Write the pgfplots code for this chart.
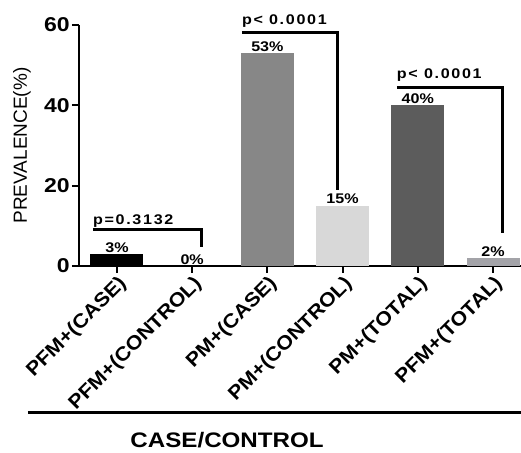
\documentclass[border=0pt]{standalone}
\usepackage{fontspec}
\setmainfont{Liberation Sans}
\newfontfamily\hfont{Liberation Sans}[FakeStretch=1.15]
\newfontfamily\rfont{Liberation Sans}[FakeStretch=1.1]
\newfontfamily\pfont{Liberation Sans}[FakeStretch=1.15, LetterSpace=12]
\usepackage{pgfplots}
\pgfplotsset{compat=1.18}

\definecolor{gA}{HTML}{878787}
\definecolor{gB}{HTML}{D8D8D8}
\definecolor{gC}{HTML}{5C5C5C}
\definecolor{gD}{HTML}{A3A3A8}

\begin{document}
\begin{tikzpicture}
\begin{axis}[
  scale only axis, width=442pt, height=241pt,
  xmin=-0.505, xmax=5.372, ymin=0, ymax=60,
  axis x line=bottom, axis y line=left,
  axis line style={-, line width=2.5pt},
  ytick={0,20,40,60}, xtick={0,...,5},
  xticklabels={PFM+(CASE), PFM+(CONTROL), PM+(CASE), PM+(CONTROL), PM+(TOTAL), PFM+(TOTAL)},
  tick align=outside, major tick length=7pt,
  tick style={line width=2pt, black},
  /pgf/number format/assume math mode=true,
  yticklabel style={font=\hfont\bfseries\fontsize{20}{20}\selectfont, inner sep=2pt},
  xticklabel style={font=\rfont\bfseries\fontsize{19.5}{19.5}\selectfont, rotate=45, anchor=north east, inner sep=1pt},
  ybar, bar width=53pt, bar shift=0pt,
  nodes near coords={\pgfmathprintnumber{\pgfplotspointmeta}\%},
  every node near coord/.append style={font=\hfont\bfseries\fontsize{14}{14}\selectfont, inner sep=1.5pt, black},
  ylabel={PREVALENCE(\%)},
  ylabel style={at={(axis description cs:-0.129,0.5)}, anchor=center, font=\fontsize{19}{19}\selectfont},
  clip=false,
]
\addplot[fill=black, draw=none] coordinates {(0,3)};
\addplot[fill=none, draw=none] coordinates {(1,0)};
\addplot[fill=gA, draw=none] coordinates {(2,53)};
\addplot[fill=gB, draw=none] coordinates {(3,15)};
\addplot[fill=gC, draw=none] coordinates {(4,40)};
\addplot[fill=gD, draw=none] coordinates {(5,2)};

% significance brackets
\draw[line width=3pt] (axis cs:-0.32,9.2) -- (axis cs:1.13,9.2) -- (axis cs:1.13,4.7);
\node[anchor=base west, inner sep=0pt, font=\pfont\bfseries\fontsize{14}{14}\selectfont] at (axis cs:-0.32,10.4) {p=0.3132};
\draw[line width=3pt] (axis cs:1.66,58.2) -- (axis cs:2.93,58.2) -- (axis cs:2.93,18.9);
\node[anchor=base west, inner sep=0pt, font=\pfont\bfseries\fontsize{14}{14}\selectfont] at (axis cs:1.66,60.0) {p< 0.0001};
\draw[line width=3pt] (axis cs:3.72,44.5) -- (axis cs:5.12,44.5) -- (axis cs:5.12,8.2);
\node[anchor=base west, inner sep=0pt, font=\pfont\bfseries\fontsize{14}{14}\selectfont] at (axis cs:3.72,46.8) {p< 0.0001};

% x title with rule above it
\draw[line width=3pt] (rel axis cs:-0.1154,-0.606) -- (rel axis cs:1,-0.606);
\node[anchor=base, inner sep=0pt, font=\hfont\bfseries\fontsize{21}{21}\selectfont] at (rel axis cs:0.335,-0.752) {CASE/CONTROL};

\coordinate (bl) at (rel axis cs:-0.1787,-0.7718);
\coordinate (tr) at (rel axis cs:1,1.1037);
\end{axis}
\pgfresetboundingbox
\path[use as bounding box] (bl) rectangle (tr);
\end{tikzpicture}
\end{document}
